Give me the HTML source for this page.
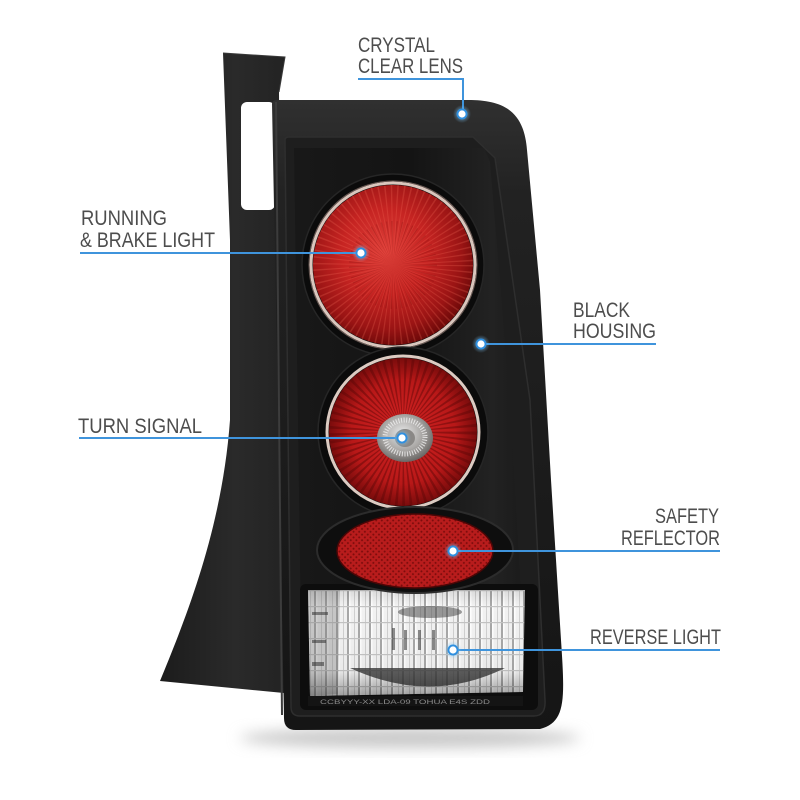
<!DOCTYPE html>
<html><head><meta charset="utf-8"><style>
html,body{margin:0;padding:0;background:#fff;}
svg{display:block}
text{font-family:"Liberation Sans",sans-serif;font-size:21px;fill:#4d4d4d}
</style></head><body>
<svg width="800" height="800" viewBox="0 0 800 800" xmlns="http://www.w3.org/2000/svg">
<defs>
 <filter id="blur8" x="-50%" y="-50%" width="200%" height="200%"><feGaussianBlur stdDeviation="7"/></filter>
 <linearGradient id="brk" x1="0" y1="0" x2="1" y2="0">
  <stop offset="0" stop-color="#1c1c1c"/><stop offset="0.6" stop-color="#2a2a2a"/><stop offset="1" stop-color="#232323"/>
 </linearGradient>
 <linearGradient id="hous" x1="0" y1="0" x2="0" y2="1">
  <stop offset="0" stop-color="#303030"/><stop offset="0.15" stop-color="#222"/><stop offset="1" stop-color="#151515"/>
 </linearGradient>
 <linearGradient id="face" x1="0" y1="0" x2="1" y2="0">
  <stop offset="0" stop-color="#181818"/><stop offset="0.5" stop-color="#141414"/><stop offset="0.85" stop-color="#222"/><stop offset="1" stop-color="#1a1a1a"/>
 </linearGradient>
 <radialGradient id="rl" cx="0.45" cy="0.42" r="0.6">
  <stop offset="0" stop-color="#e0403a"/><stop offset="0.45" stop-color="#c62422"/><stop offset="0.8" stop-color="#9a1414"/><stop offset="1" stop-color="#6a0808"/>
 </radialGradient>
 <radialGradient id="tl" cx="0.5" cy="0.5" r="0.5">
  <stop offset="0" stop-color="#d42424"/><stop offset="0.7" stop-color="#b81818"/><stop offset="1" stop-color="#7a0c0c"/>
 </radialGradient>
 <radialGradient id="bulb" cx="0.45" cy="0.4" r="0.6">
  <stop offset="0" stop-color="#e8e8e8"/><stop offset="0.6" stop-color="#a9a7a5"/><stop offset="1" stop-color="#6b6866"/>
 </radialGradient>
 <pattern id="refl" width="4" height="4" patternUnits="userSpaceOnUse" patternTransform="rotate(45)">
  <rect width="4" height="4" fill="#b81c1c"/><circle cx="2" cy="2" r="1" fill="#7c0c0c"/>
 </pattern>
 <pattern id="rev" width="11" height="16" patternUnits="userSpaceOnUse">
  <rect width="11" height="16" fill="#f2f2f2"/><rect x="6" width="2" height="16" fill="#a8a8a8"/><rect x="8" width="1.5" height="16" fill="#fff"/><rect x="2" width="1" height="16" fill="#d0d0d0"/><rect y="14" width="11" height="1.2" fill="#c4c4c4"/>
 </pattern>
 <linearGradient id="revshade" x1="0" y1="0" x2="0" y2="1">
  <stop offset="0" stop-color="#000" stop-opacity="0.1"/><stop offset="0.15" stop-color="#000" stop-opacity="0"/><stop offset="0.75" stop-color="#000" stop-opacity="0.03"/><stop offset="1" stop-color="#000" stop-opacity="0.35"/>
 </linearGradient>
 <radialGradient id="dotglow">
  <stop offset="0" stop-color="#7cc4f5" stop-opacity="0.9"/><stop offset="1" stop-color="#7cc4f5" stop-opacity="0"/>
 </radialGradient>
 <g id="dot">
  <circle r="9" fill="url(#dotglow)"/>
  <circle r="5.5" fill="#2f8fdf"/>
  <circle r="3.6" fill="#fff"/>
 </g>
</defs>

<!-- shadow -->
<ellipse cx="410" cy="738" rx="170" ry="10" fill="#c8c8c8" filter="url(#blur8)"/>

<!-- bracket -->
<path d="M223,53 L285,57 L279,92 L284,693 L160,681 C185,620 222,530 230,420 L230,240 Z" fill="url(#brk)"/>
<path d="M223,53 L285,57 L279,92" fill="none" stroke="#3a3a3a" stroke-width="1"/>
<rect x="241" y="102" width="34" height="108" rx="6" fill="#fff"/>

<!-- housing outer -->
<path d="M272,104 Q272,100 277,100 L468,100 C505,100 524,112 527,150 L540,290 L551,480 L561,640 C565,700 566,722 540,729 L296,730 Q284,730 284,718 Z" fill="url(#hous)"/>
<path d="M276,102 L282,715" stroke="#3c3c3c" stroke-width="2"/>
<!-- bezel -->
<path d="M285,140 Q285,137 289,137 L473,137 L495,158 L530,400 L545,700 Q546,716 534,716 L300,716 Q291,716 291,707 Z" fill="#1e1e1e" stroke="#2e2e2e" stroke-width="1.5"/>
<!-- face -->
<path d="M294,148 L484,148 L490,162 L510,400 L527,700 L302,702 Z" fill="url(#face)"/>

<!-- running light -->
<circle cx="393" cy="265" r="91" fill="#0b0b0b" stroke="#262626" stroke-width="1.5"/>
<circle cx="393" cy="265" r="82" fill="none" stroke="#d9c6bd" stroke-width="3"/>
<circle cx="393" cy="265" r="80" fill="url(#rl)"/>
<circle cx="393" cy="265" r="40" fill="none" stroke="#ff7a66" stroke-width="80" stroke-dasharray="0.8 2.6" opacity="0.22"/>
<circle cx="393" cy="265" r="22" fill="none" stroke="#6a0606" stroke-width="44" stroke-dasharray="0.7 2" opacity="0.2"/>
<circle cx="393" cy="265" r="84" fill="none" stroke="#6a5a55" stroke-width="1"/>

<!-- turn signal -->
<circle cx="403" cy="432" r="85" fill="#0b0b0b" stroke="#262626" stroke-width="1.5"/>
<circle cx="403" cy="432" r="76" fill="none" stroke="#dccbc2" stroke-width="3"/>
<circle cx="403" cy="432" r="74" fill="url(#tl)"/>
<circle cx="403" cy="432" r="37" fill="none" stroke="#5a0606" stroke-width="74" stroke-dasharray="1.4 2.4" opacity="0.45"/>
<ellipse cx="405" cy="438" rx="28" ry="24" fill="url(#bulb)"/>
<ellipse cx="405" cy="437" rx="20" ry="17" fill="none" stroke="#f2f2f2" stroke-width="5" stroke-dasharray="1 1.6" opacity="0.8"/>
<ellipse cx="405" cy="438" rx="10" ry="9" fill="#8a8886"/>

<!-- reverse light frame & lens -->
<rect x="300" y="584" width="238" height="126" rx="6" fill="#0d0d0d"/>
<path d="M308,590 L525,590 L523,692 L310,696 Z" fill="url(#rev)"/>
<path d="M308,590 L340,590 L338,694 L310,696 Z" fill="#777" opacity="0.35"/>
<g fill="#333" opacity="0.55">
 <rect x="312" y="612" width="16" height="3"/><rect x="312" y="640" width="14" height="3"/><rect x="312" y="662" width="12" height="4"/>
 <rect x="392" y="628" width="3" height="22"/><rect x="404" y="630" width="3" height="20"/><rect x="418" y="630" width="3" height="20"/><rect x="432" y="630" width="3" height="20"/>
</g>
<ellipse cx="430" cy="612" rx="32" ry="6" fill="#4a4a4a" opacity="0.55"/>
<path d="M350,668 Q430,705 505,668 Z" fill="#3a3a3a" opacity="0.8"/>
<path d="M308,590 L525,590 L523,692 L310,696 Z" fill="url(#revshade)"/>
<rect x="308" y="696" width="215" height="10" fill="#141414"/>
<text x="320" y="704" style="font-size:6px;fill:#8a8a8a" textLength="170" lengthAdjust="spacingAndGlyphs">CCBYYY-XX    LDA-09  TOHUA  E4S   ZDD</text>

<!-- reflector -->
<ellipse cx="415" cy="550" rx="98" ry="43" fill="#0e0e0e" stroke="#2c2c2c" stroke-width="2"/>
<ellipse cx="415" cy="551" rx="78" ry="37" fill="url(#refl)"/>
<ellipse cx="415" cy="551" rx="78" ry="37" fill="none" stroke="#4a0606" stroke-width="1.5"/>

<!-- connectors -->
<g stroke="#3f94dc" stroke-width="2" fill="none">
 <path d="M358,79 H463 V114"/>
 <path d="M80,253 H361"/>
 <path d="M79,438 H402"/>
 <path d="M481,344 H656"/>
 <path d="M453,551 H720"/>
 <path d="M453,650 H720"/>
</g>
<use href="#dot" x="462" y="114"/>
<use href="#dot" x="361" y="253"/>
<use href="#dot" x="402" y="438"/>
<use href="#dot" x="481" y="344"/>
<use href="#dot" x="453" y="551"/>
<use href="#dot" x="453" y="650"/>

<!-- labels -->
<text x="358" y="52" textLength="77" lengthAdjust="spacingAndGlyphs">CRYSTAL</text>
<text x="358" y="73" textLength="105" lengthAdjust="spacingAndGlyphs">CLEAR LENS</text>
<text x="81" y="225" textLength="86" lengthAdjust="spacingAndGlyphs">RUNNING</text>
<text x="80" y="247" textLength="135" lengthAdjust="spacingAndGlyphs">&amp; BRAKE LIGHT</text>
<text x="78" y="433" textLength="124" lengthAdjust="spacingAndGlyphs">TURN SIGNAL</text>
<text x="573" y="317" textLength="57" lengthAdjust="spacingAndGlyphs">BLACK</text>
<text x="573" y="338" textLength="83" lengthAdjust="spacingAndGlyphs">HOUSING</text>
<text x="655" y="523" textLength="64" lengthAdjust="spacingAndGlyphs">SAFETY</text>
<text x="621" y="545" textLength="99" lengthAdjust="spacingAndGlyphs">REFLECTOR</text>
<text x="590" y="644" textLength="131" lengthAdjust="spacingAndGlyphs">REVERSE LIGHT</text>
</svg>
</body></html>
